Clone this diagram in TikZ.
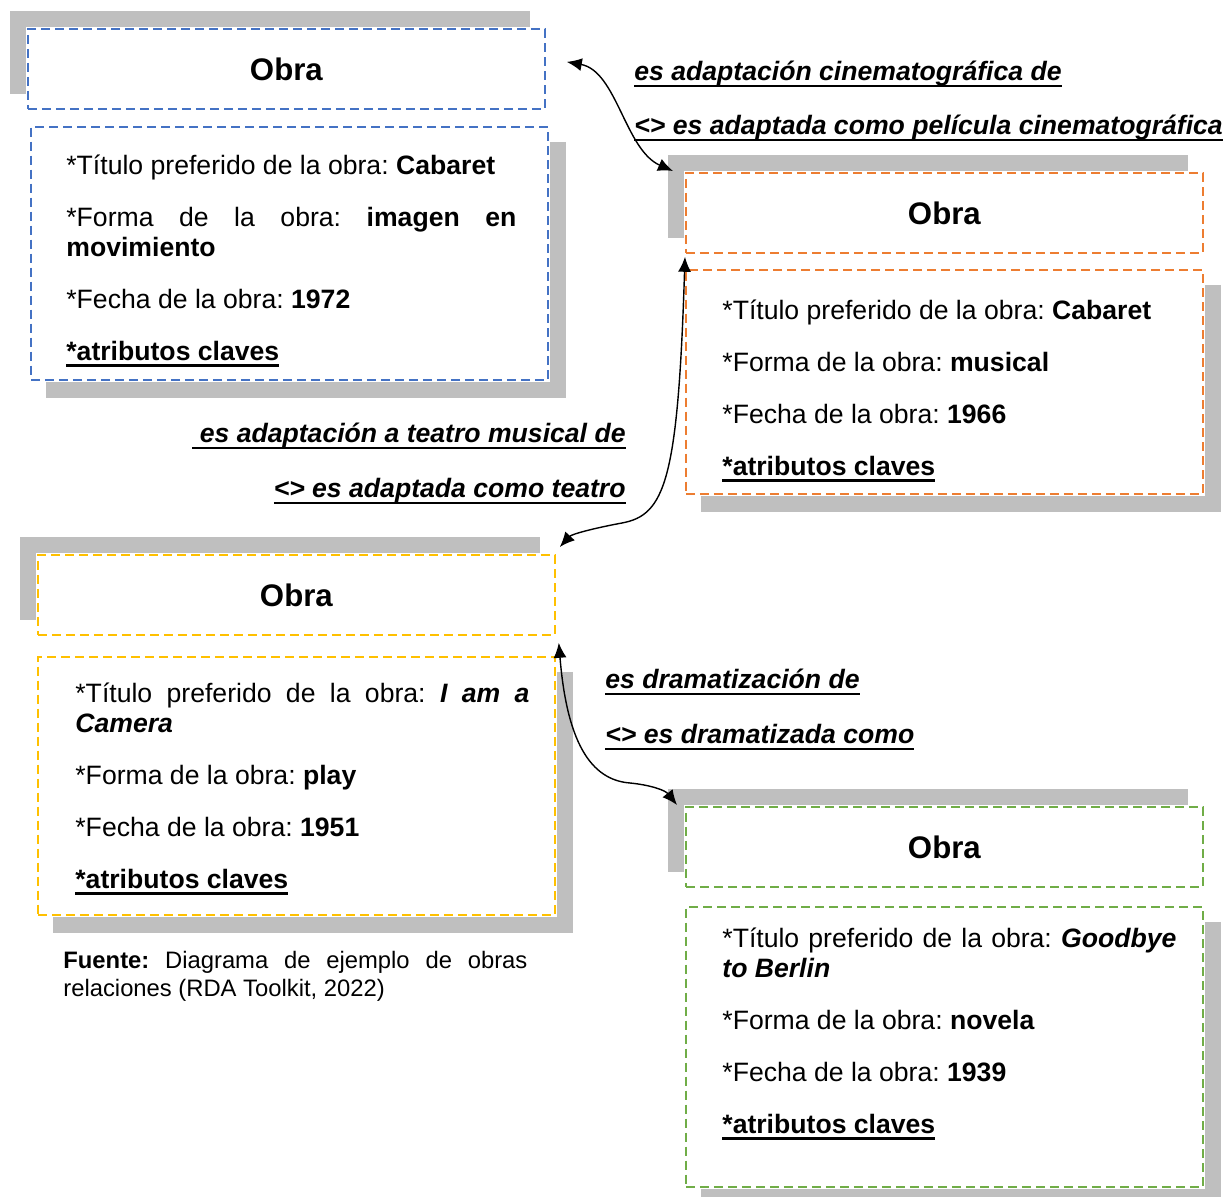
\documentclass[tikz,border=0pt]{standalone}
\usepackage{fontspec}
\setmainfont{Liberation Sans}
\usetikzlibrary{calc}
\usetikzlibrary{positioning}
\usetikzlibrary{arrows.meta}

\definecolor{azul}{HTML}{4472C4}
\definecolor{naranja}{HTML}{ED7D31}
\definecolor{amarillo}{HTML}{FFC000}
\definecolor{verde}{HTML}{70AD47}
\definecolor{gris}{HTML}{BFBFBF}

\newcommand{\subrayado}[1]{\leavevmode\setbox0=\hbox{#1}\rlap{\rule[-3pt]{\wd0}{1.2pt}}\box0}
\frenchspacing
\hyphenpenalty=10000
\exhyphenpenalty=10000
\tolerance=9999

\begin{document}
\begin{tikzpicture}[
		x=0.5pt, y=-0.5pt,
		titulo/.style={
			draw,
			line width=0.9pt,
			dash pattern=on 4.5pt off 2.5pt,
			rectangle,
			minimum width=258.5pt,
			minimum height=40pt,
			font=\fontsize{15.6}{18}\selectfont\bfseries},
		atributos/.style={
			draw,
			line width=0.9pt,
			dash pattern=on 4.5pt off 2.5pt,
			rectangle,
			minimum width=258.5pt},
		texto/.style={
			text width=227pt,
			align=justify,
			inner sep=0pt,
			font=\fontsize{13.3}{15}\selectfont},
		relacion/.style={
			inner sep=0pt,
			font=\fontsize{13.3}{15}\selectfont\bfseries\itshape},
		sombra/.style={
			draw=gris,
			line width=8pt},
		flecha/.style={
			{Latex[length=7.5pt,width=6.5pt]}-{Latex[length=7.5pt,width=6.5pt]},
			line width=0.7pt},
		]

		\useasboundingbox (0,0) rectangle (1227,1197);

		%Obra Cabaret (pelicula)
		\node (obraA)[titulo, draw=azul, anchor=north west] at (27,28) {Obra};
		\node (atrA)[atributos, draw=azul, below = 8pt of obraA.south west, anchor=north west, xshift=1.5pt, minimum height=126.5pt] {};
		\node (txtA)[texto, text width=225pt, anchor=base west] at ($(atrA.north west)+(36,49)$) {*Título preferido de la obra: \textbf{Cabaret}\par\vspace{11pt}*Forma de la obra: \textbf{imagen en movimiento}\par\vspace{11pt}*Fecha de la obra: \textbf{1972}\par\vspace{11pt}\subrayado{\textbf{*atributos claves}}};
		\draw[sombra] ($(obraA.south west)+(-9,-16)$) |- ($(obraA.north east)+(-16,-9)$);
		\draw[sombra] ($(atrA.north east)+(9,16)$) |- ($(atrA.south west)+(16,9)$);

		%Obra Cabaret (musical)
		\node (obraB)[titulo, draw=naranja, anchor=north west] at (685,172) {Obra};
		\node (atrB)[atributos, draw=naranja, below = 7.5pt of obraB.south west, anchor=north west, minimum height=112pt] {};
		\node (txtB)[texto, anchor=base west] at ($(atrB.north west)+(37,51)$) {*Título preferido de la obra: \textbf{Cabaret}\par\vspace{11pt}*Forma de la obra: \textbf{musical}\par\vspace{11pt}*Fecha de la obra: \textbf{1966}\par\vspace{11pt}\subrayado{\textbf{*atributos claves}}};
		\draw[sombra] ($(obraB.south west)+(-9,-16)$) |- ($(obraB.north east)+(-16,-9)$);
		\draw[sombra] ($(atrB.north east)+(9,16)$) |- ($(atrB.south west)+(16,9)$);

		%Obra I am a Camera
		\node (obraC)[titulo, draw=amarillo, anchor=north west] at (37,554) {Obra};
		\node (atrC)[atributos, draw=amarillo, below = 10pt of obraC.south west, anchor=north west, minimum height=129pt] {};
		\node (txtC)[texto, anchor=base west] at ($(atrC.north west)+(38,47)$) {*Título preferido de la obra: \textbf{\textit{I am a Camera}}\par\vspace{11pt}*Forma de la obra: \textbf{play}\par\vspace{11pt}*Fecha de la obra: \textbf{1951}\par\vspace{11pt}\subrayado{\textbf{*atributos claves}}};
		\draw[sombra] ($(obraC.south west)+(-9,-16)$) |- ($(obraC.north east)+(-16,-9)$);
		\draw[sombra] ($(atrC.north east)+(9,16)$) |- ($(atrC.south west)+(16,9)$);

		%Obra Goodbye to Berlin
		\node (obraD)[titulo, draw=verde, anchor=north west] at (685,806) {Obra};
		\node (atrD)[atributos, draw=verde, below = 9pt of obraD.south west, anchor=north west, minimum height=140pt] {};
		\node (txtD)[texto, anchor=base west] at ($(atrD.north west)+(37,42)$) {*Título preferido de la obra: \textbf{\textit{Goodbye to Berlin}}\par\vspace{11pt}*Forma de la obra: \textbf{novela}\par\vspace{11pt}*Fecha de la obra: \textbf{1939}\par\vspace{11pt}\subrayado{\textbf{*atributos claves}}};
		\draw[sombra] ($(obraD.south west)+(-9,-16)$) |- ($(obraD.north east)+(-16,-9)$);
		\draw[sombra] ($(atrD.north east)+(9,16)$) |- ($(atrD.south west)+(16,9)$);

		%Relaciones
		\node (relAB1)[relacion, anchor=base west] at (634,81) {\subrayado{es adaptación cinematográfica de}};
		\node (relAB2)[relacion, anchor=base west] at (634,135) {\subrayado{<> es adaptada como película cinematográfica}};
		\node (relBC1)[relacion, anchor=base east] at (626,443) {\subrayado{\ es adaptación a teatro musical de}};
		\node (relBC2)[relacion, anchor=base east] at (626,498) {\subrayado{<> es adaptada como teatro}};
		\node (relCD1)[relacion, anchor=base west] at (605,689) {\subrayado{es dramatización de}};
		\node (relCD2)[relacion, anchor=base west] at (605,744) {\subrayado{<> es dramatizada como}};

		%Fuente
		\node (fuente)[texto, text width=232pt, font=\fontsize{11.9}{14}\selectfont, anchor=base west] at (63,968) {\textbf{Fuente:} Diagrama de ejemplo de obras relaciones (RDA Toolkit, 2022)};

		%Flechas
		\coordinate (curvaBC) at (622,523);
		\coordinate (curvaCD) at (630,783);
		\draw[flecha] ($(obraA.east)+(21,-7)$) .. controls +(50,9) and +(-48,-21) .. ($(obraB.north west)+(-12,-1)$);
		\draw[flecha] ($(obraB.south west)+(0,3)$) .. controls +(-7,224) and +(43,-8) .. (curvaBC) .. controls +(-27,5) and +(12,-13) .. ($(obraC.north east)+(4,-7)$);
		\draw[flecha] ($(obraC.south east)+(3,7)$) .. controls +(8,98) and +(-40,-3) .. (curvaCD) .. controls +(20,2) and +(-12,-15) .. ($(obraD.north west)+(-8,-1)$);

	\end{tikzpicture}
\end{document}
